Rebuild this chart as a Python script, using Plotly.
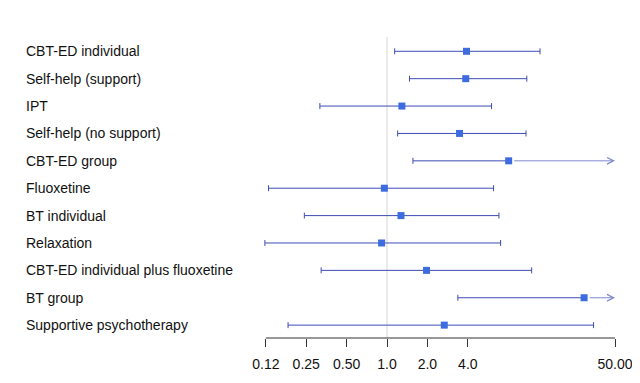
import math
import plotly.graph_objects as go

treatments = [
    "CBT-ED individual",
    "Self-help (support)",
    "IPT",
    "Self-help (no support)",
    "CBT-ED group",
    "Fluoxetine",
    "BT individual",
    "Relaxation",
    "CBT-ED individual plus fluoxetine",
    "BT group",
    "Supportive psychotherapy",
]
estimate = [3.91, 3.86, 1.29, 3.47, 8.06, 0.955, 1.27, 0.911, 1.97, 29.4, 2.67]
lower = [1.14, 1.47, 0.316, 1.20, 1.56, 0.131, 0.242, 0.123, 0.323, 3.37, 0.183]
upper = [13.8, 11.0, 6.01, 10.85, 80.0, 6.22, 6.82, 7.02, 11.96, 80.0, 34.6]

tick_vals = [0.125, 0.25, 0.5, 1, 2, 4, 50]
tick_text = ["0.12", "0.25", "0.50", "1.0", "2.0", "4.0", "50.00"]
axis_max = 50

LINE = "#3c4cb6"
LINE_LIGHT = "#7f89cf"
MARK = "#3d6be0"
FONT = "Liberation Sans, Arial, sans-serif"

# page body has an 8px default margin; keep the figure inside the viewport
FIG_W, FIG_H = 624, 367
plot_l, plot_r = 247, 609
plot_t, plot_b = 29, 330

rows = list(range(1, len(treatments) + 1))
plus = [0 if u > axis_max else u - e for u, e in zip(upper, estimate)]
minus = [e - l for e, l in zip(estimate, lower)]

fig = go.Figure()
fig.add_trace(go.Scatter(
    x=estimate, y=rows, mode="markers",
    marker=dict(symbol="square", size=7, color=MARK),
    error_x=dict(type="data", symmetric=False, array=plus, arrayminus=minus,
                 color=LINE, thickness=1, width=3),
    showlegend=False, hoverinfo="skip",
))

annotations = []
for r, e, u in zip(rows, estimate, upper):
    if u > axis_max:
        annotations.append(dict(
            x=math.log10(axis_max), y=r, ax=math.log10(e), ay=r,
            xref="x", yref="y", axref="x", ayref="y",
            showarrow=True, arrowhead=5, arrowsize=1.3, arrowwidth=1,
            arrowcolor=LINE_LIGHT, standoff=0, startstandoff=4, text="",
        ))

for r, name in zip(rows, treatments):
    annotations.append(dict(
        x=(16 - plot_l) / (plot_r - plot_l), y=r, xref="paper", yref="y",
        text=name, showarrow=False, xanchor="left", yanchor="middle",
        font=dict(family=FONT, size=14, color="#111111"),
    ))

shapes = [
    dict(type="line", xref="x", yref="paper", x0=1, x1=1, y0=0, y1=1,
         line=dict(color="#d6d6d6", width=1), layer="below"),
    dict(type="line", xref="x", yref="paper",
         x0=tick_vals[0], x1=tick_vals[-1], y0=0, y1=0,
         line=dict(color="#333333", width=1)),
]

fig.update_layout(
    width=FIG_W, height=FIG_H,
    margin=dict(l=plot_l, r=FIG_W - plot_r, t=plot_t, b=FIG_H - plot_b),
    paper_bgcolor="white", plot_bgcolor="white",
    xaxis=dict(type="log", range=[-0.9838, 1.7135], automargin=False,
               tickvals=tick_vals, ticktext=tick_text,
               ticks="outside", ticklen=8, tickwidth=1, tickcolor="#333333",
               ticklabelstandoff=5, ticklabeloverflow="allow",
               showgrid=False, zeroline=False, showline=False,
               tickfont=dict(family=FONT, size=14, color="#111111")),
    yaxis=dict(range=[11.47, 0.478], showticklabels=False, showgrid=False,
               zeroline=False, showline=False, ticks="", automargin=False),
    annotations=annotations, shapes=shapes,
)

fig.write_html("out.html")
